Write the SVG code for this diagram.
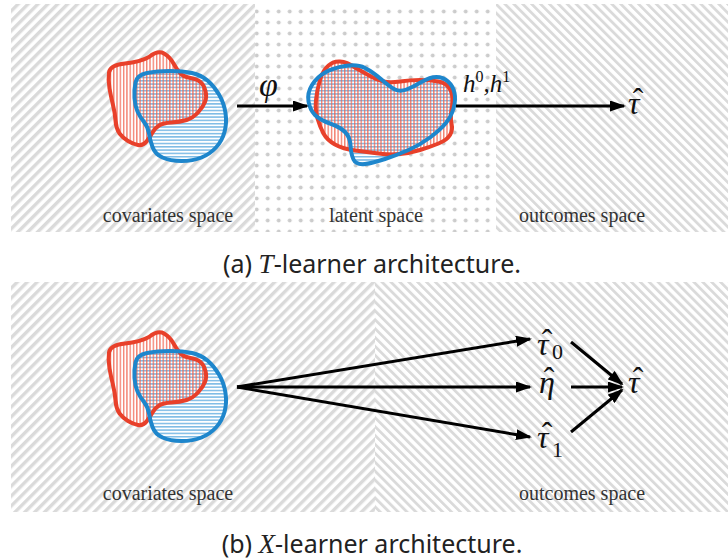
<svg xmlns="http://www.w3.org/2000/svg" xmlns:xlink="http://www.w3.org/1999/xlink" width="728" height="560" viewBox="0 0 728 560">
<style>
.lbl{font-family:"Liberation Serif",serif;font-size:20px;fill:#333;text-anchor:middle}
.math{font-family:"Liberation Serif","DejaVu Serif",serif;font-style:italic;fill:#111}
.up{font-family:"Liberation Serif","DejaVu Serif",serif;font-style:normal;fill:#111}
.cap{font-family:"Noto Sans","Open Sans",sans-serif;font-size:25px;fill:#222;text-anchor:middle}
.conn{stroke:#000;stroke-width:3;fill:none;marker-end:url(#ah)}
.redS{fill:none;stroke:#e8402a;stroke-width:4;stroke-linejoin:round}
.bluS{fill:none;stroke:#1e86cc;stroke-width:4;stroke-linejoin:round}
</style>
<defs>
<pattern id="hatchL" width="7" height="7" patternUnits="userSpaceOnUse" patternTransform="rotate(45)"><rect width="3.4" height="7" fill="#dadada"/></pattern>
<pattern id="hatchR" width="6.3" height="6.3" patternUnits="userSpaceOnUse" patternTransform="rotate(-45)"><rect width="2.8" height="6.3" fill="#dadada"/></pattern>
<pattern id="dots" width="11" height="11" x="251.2" y="-5" patternUnits="userSpaceOnUse"><circle cx="5.5" cy="5.5" r="2" fill="#cccccc"/></pattern>
<pattern id="vred" width="3.3" height="10" patternUnits="userSpaceOnUse"><rect x="1" width="1.1" height="10" fill="#f0604c"/></pattern>
<pattern id="hblu" width="10" height="3.3" patternUnits="userSpaceOnUse"><rect y="1" width="10" height="1.2" fill="#5aa9de"/></pattern>
<marker id="ah" viewBox="0 0 16 11" refX="14" refY="5.5" markerWidth="16" markerHeight="11" orient="auto" markerUnits="userSpaceOnUse"><path d="M0,0 L16,5.5 L0,11 Z" fill="#000"/></marker>
<path id="lr" d="M109,72.5 Q110,65 125,63.5 Q140,62 149,57 Q158,50 164,53.5 Q170,57 173.5,63.5 Q177,70 180.5,73.5 Q184,77 190.5,78 Q197,79 200.5,82 Q204,85 205.5,91 Q207,97 205,102 Q203,107 198,112.5 Q193,118 186.5,120 Q180,122 171.5,122.5 Q163,123 159,125.5 Q155,128 152.5,132.5 Q150,137 146.5,141.5 Q143,146 138,145 Q133,144 128,141 Q123,138 119.5,133.5 Q116,128 115.5,120.5 Q115,113 113,105 Q111,97 109.5,88.5 Q108,80 109,72.5 Z"/>
<path id="lb" d="M135.5,82.5 Q137,75 147,73 Q157,71 170,71 Q183,71 192,73 Q201,75 207.5,80.5 Q214,86 219,94.5 Q224,103 225.5,113 Q227,123 224.5,132 Q222,141 216,147.5 Q210,154 201.5,157.5 Q193,161 181.5,161 Q170,161 162.5,157.5 Q155,154 152.5,147 Q150,140 149,133.5 Q148,127 144,122 Q140,117 137.5,111.5 Q135,106 134.5,98 Q134,90 135.5,82.5 Z"/>
<path id="mr" d="M328,66 Q333,61 340,61.5 Q347,62 355,67.5 Q363,72 370,76 Q377,80 383.5,81.5 Q390,83 400,81.5 Q410,80 420,80 Q430,80 438.5,81.5 Q447,83 450.5,90 Q454,97 452,107 Q450,117 451.5,123.5 Q453,130 450,135 Q447,140 438.5,143.5 Q430,147 420,150 Q410,153 400,154 Q390,155 378.5,153.5 Q367,152 355,150.5 Q343,149 335,144.5 Q327,140 323.5,133.5 Q320,127 317.5,118.5 Q315,110 316,100 Q317,90 320,80 Q323,70 328,66 Z"/>
<path id="mb" d="M308.5,101.5 Q307,93 312,85 Q317,77 325,72.5 Q333,68 345,66 Q357,64 365,68 Q373,72 381.5,79.5 Q390,87 395,89.5 Q400,92 406.5,89.5 Q413,87 421.5,82 Q430,77 436.5,77 Q443,77 448,81.5 Q453,86 454.5,93 Q456,100 453.5,108.5 Q451,117 445.5,123.5 Q440,130 430,137.5 Q420,145 408.5,150 Q397,155 385,159 Q373,163 365,164 Q356,165 353.5,159.5 Q351,154 350.5,145.5 Q350,137 345,132 Q340,127 330,123.5 Q320,120 315,115 Q310,110 308.5,101.5 Z"/>
<g id="blobL">
<use xlink:href="#lr" fill="#fff"/><use xlink:href="#lb" fill="#fff"/>
<use xlink:href="#lb" fill="url(#hblu)"/><use xlink:href="#lr" fill="url(#vred)"/>
<use xlink:href="#lr" class="redS"/><use xlink:href="#lb" class="bluS"/>
</g>
</defs>

<!-- panel backgrounds -->
<g id="panelA">
<rect x="11" y="4" width="244" height="228" fill="url(#hatchL)"/>
<rect x="255" y="4" width="241" height="228" fill="url(#dots)"/>
<rect x="496" y="4" width="232" height="228" fill="url(#hatchR)"/>
</g>
<g id="panelB">
<rect x="11" y="282" width="364" height="230" fill="url(#hatchL)"/>
<rect x="375" y="282" width="353" height="230" fill="url(#hatchR)"/>
</g>

<g id="covariatesA"><use xlink:href="#blobL"/></g>
<g id="latentA">
<use xlink:href="#mr" fill="#fff"/><use xlink:href="#mb" fill="#fff"/>
<use xlink:href="#mb" fill="url(#hblu)"/><use xlink:href="#mr" fill="url(#vred)"/>
<use xlink:href="#mr" class="redS"/><use xlink:href="#mb" class="bluS"/>
</g>
<g id="covariatesB"><use xlink:href="#blobL" transform="translate(0,280)"/></g>

<g id="connectors">
<line class="conn" x1="237" y1="106" x2="307" y2="106"/>
<line class="conn" x1="456" y1="106" x2="624" y2="106"/>
<line class="conn" x1="237" y1="387" x2="530" y2="339"/>
<line class="conn" x1="237" y1="387" x2="530" y2="387"/>
<line class="conn" x1="237" y1="387" x2="530" y2="437"/>
<line class="conn" x1="571" y1="342" x2="622" y2="384"/>
<line class="conn" x1="571" y1="387" x2="622" y2="387"/>
<line class="conn" x1="571" y1="432" x2="622" y2="390"/>
</g>

<g id="labelsA">
<text class="math" x="259" y="96" font-size="34">φ</text>
<text class="math" x="463" y="92" font-size="25">h<tspan class="up" font-size="16" dy="-10">0</tspan><tspan dy="10">,h</tspan><tspan class="up" font-size="16" dy="-10">1</tspan></text>
<text id="tauA" class="math" x="628" y="114" font-size="32">τ<tspan class="up" x="632.65" dy="-4">ˆ</tspan></text>
<text class="lbl" x="168" y="222">covariates space</text>
<text class="lbl" x="376" y="222">latent space</text>
<text class="lbl" x="582" y="222">outcomes space</text>
</g>
<g id="labelsB">
<text id="tau0" class="math" x="537" y="355" font-size="32">τ<tspan class="up" x="541.65" dy="-4">ˆ</tspan><tspan class="up" x="552" dy="8" font-size="22">0</tspan></text>
<text id="eta" class="math" x="539" y="393" font-size="32">η<tspan class="up" x="543.65" dy="-4">ˆ</tspan></text>
<text id="tau1" class="math" x="537" y="448" font-size="32">τ<tspan class="up" x="541.65" dy="-4">ˆ</tspan><tspan class="up" x="552" dy="13" font-size="22">1</tspan></text>
<text id="tauB" class="math" x="628" y="393" font-size="32">τ<tspan class="up" x="632.65" dy="-4">ˆ</tspan></text>
<text class="lbl" x="168" y="500">covariates space</text>
<text class="lbl" x="582" y="500">outcomes space</text>
</g>

<text class="cap" x="372" y="273">(a) <tspan font-family="Liberation Serif,serif" font-style="italic" font-size="27">T</tspan>-learner architecture.</text>
<text class="cap" x="372" y="553">(b) <tspan font-family="Liberation Serif,serif" font-style="italic" font-size="27">X</tspan>-learner architecture.</text>
</svg>
